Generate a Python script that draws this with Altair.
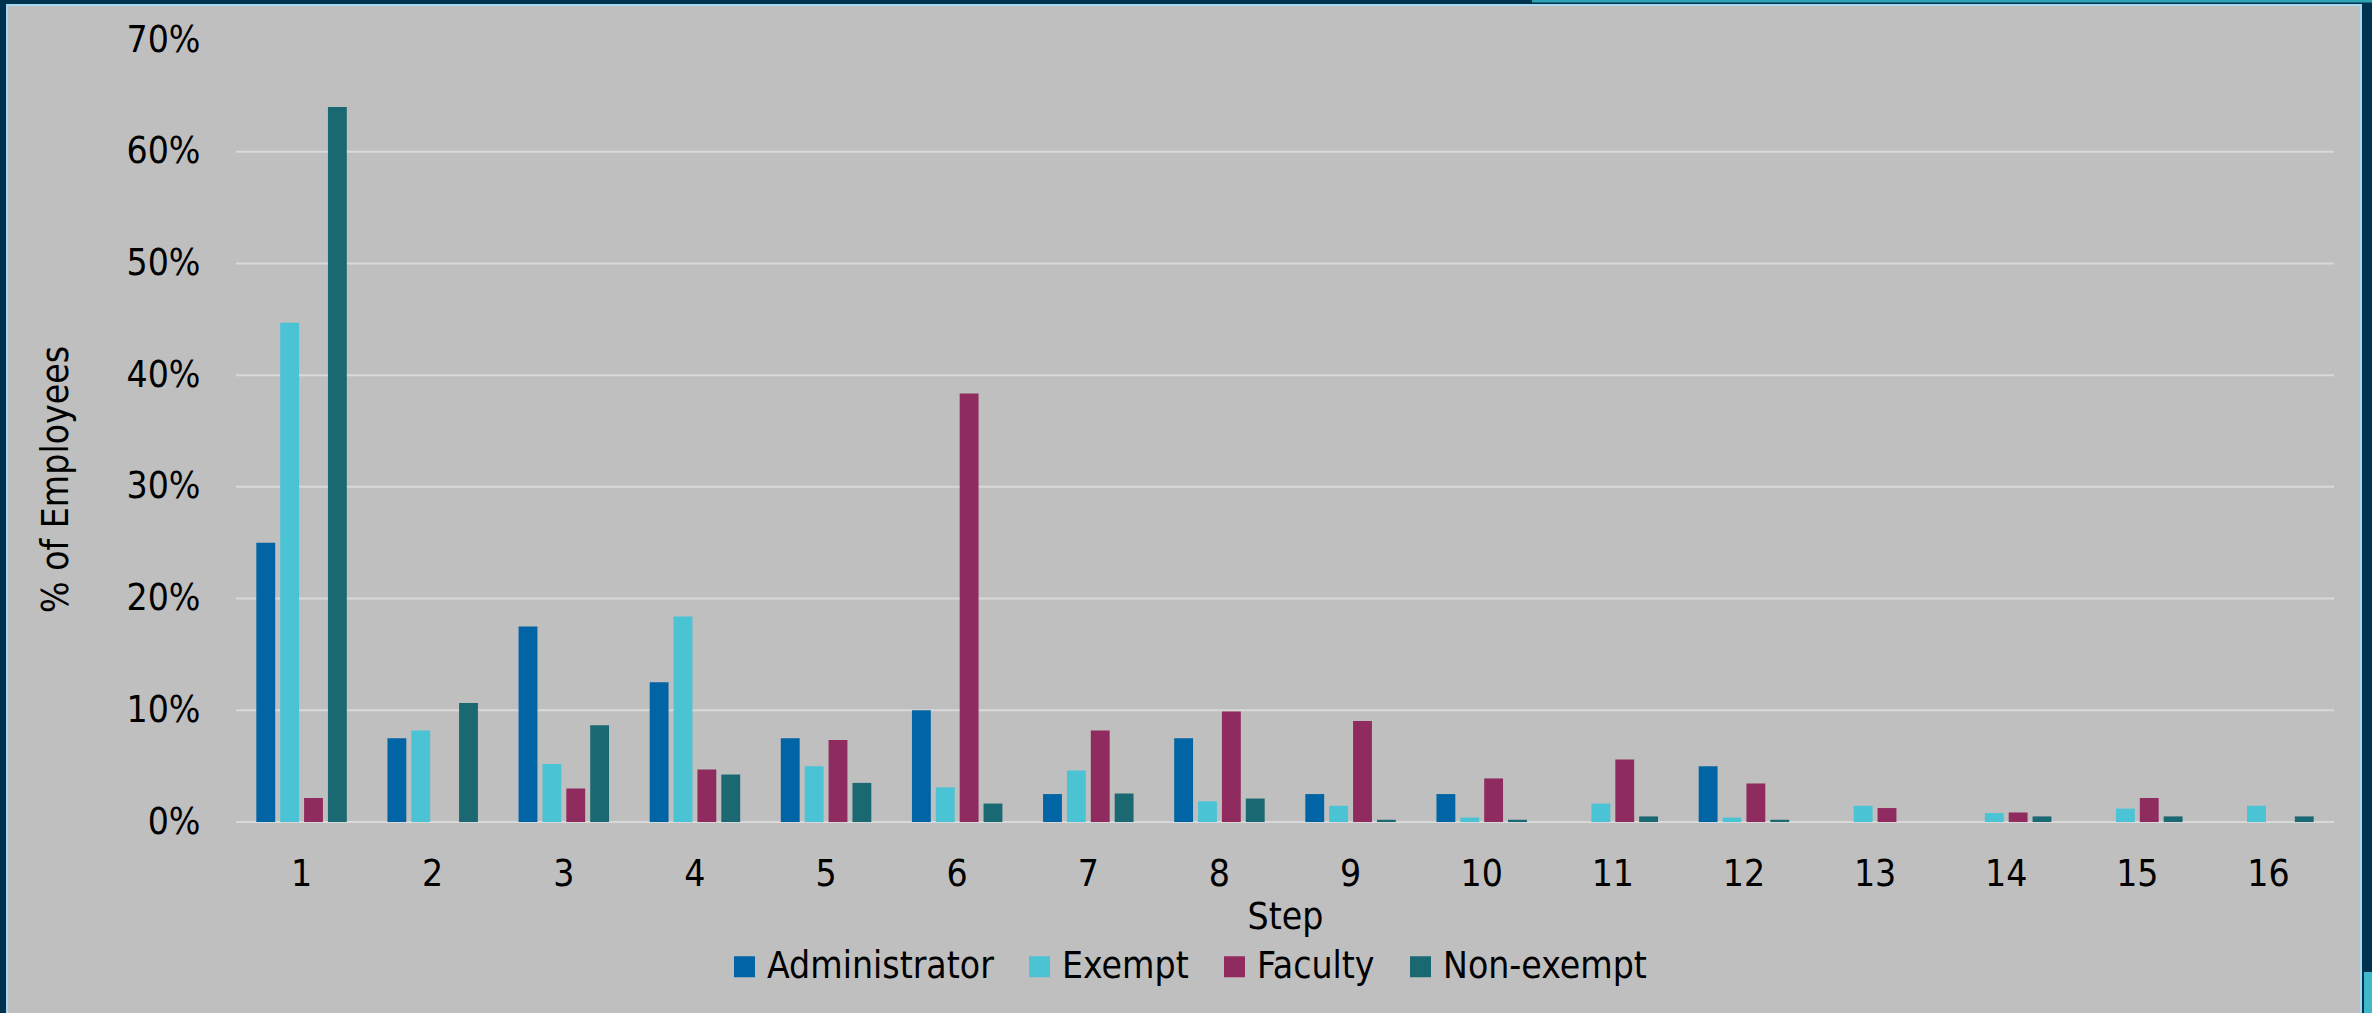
import altair as alt
import pandas as pd

# ---- data (percent of employees by step) ----
steps = [str(i) for i in range(1, 17)]
groups = ["Administrator", "Exempt", "Faculty", "Non-exempt"]
colors = ["#0064A5", "#4AC3D5", "#902B5F", "#1A6871"]

administrator = [25.0, 7.5, 17.5, 12.5, 7.5, 10.0, 2.5, 7.5, 2.5, 2.5, 0.0, 5.0, 0.0, 0.0, 0.0, 0.0]
exempt = [44.7, 8.2, 5.2, 18.4, 5.0, 3.1, 4.6, 1.85, 1.45, 0.4, 1.65, 0.4, 1.45, 0.8, 1.2, 1.45]
faculty = [2.15, 0.0, 3.0, 4.7, 7.35, 38.35, 8.2, 9.9, 9.05, 3.9, 5.6, 3.45, 1.25, 0.85, 2.15, 0.0]
non_exempt = [64.0, 10.65, 8.65, 4.25, 3.5, 1.65, 2.55, 2.1, 0.2, 0.2, 0.5, 0.2, 0.0, 0.5, 0.5, 0.5]

y_ticks = [0, 10, 20, 30, 40, 50, 60, 70]
grid_values = [0, 10, 20, 30, 40, 50, 60]

rows = []
for g, vals in zip(groups, [administrator, exempt, faculty, non_exempt]):
    for s, v in zip(steps, vals):
        rows.append({"Step": s, "Group": g, "Pct": v})
df = pd.DataFrame(rows)
grid_df = pd.DataFrame({"Pct": grid_values})

# ---- layout ----
W, H = 2098, 782
PL, PT, PR, PB = 236, 40, 38, 191
FONT = "DejaVu Sans Condensed, DejaVu Sans, sans-serif"
FS = 37

yscale = alt.Scale(domain=[0, 70], nice=False, zero=True)
yaxis = alt.Axis(
    values=y_ticks, labelExpr="datum.value + '%'", grid=False, ticks=False, tickSize=0,
    domain=False, labelFontSize=FS, labelPadding=36,
    title="% of Employees", titleFontSize=FS, titleFontWeight="normal",
    titleX=-180, titleY=439, titleAngle=-90, titleBaseline="middle", titleAlign="center",
    zindex=2,
)
one = alt.Data(values=[{"k": 1}])

panel = alt.Chart(one).mark_rect(fill="#BFBFBF", stroke="#A9D9F2", strokeWidth=2).encode(
    x=alt.value(7 - PL), x2=alt.value(2361 - PL),
    y=alt.value(5 - PT), y2=alt.value(1013 - PT + 20),
)
strip = alt.Chart(one).mark_rect(fill="#2FA3B6").encode(
    x=alt.value(1532 - PL), x2=alt.value(2372 - PL + 5),
    y=alt.value(0 - PT), y2=alt.value(2.5 - PT),
)
corner = alt.Chart(one).mark_rect(fill="#3FB8CC").encode(
    x=alt.value(2364 - PL), x2=alt.value(2372 - PL + 5),
    y=alt.value(972 - PT), y2=alt.value(1013 - PT + 5),
)

grid = alt.Chart(grid_df).mark_rule(color="#D9D9D9", strokeWidth=2).encode(
    y=alt.Y("Pct:Q", scale=yscale, axis=yaxis),
    x=alt.value(0), x2=alt.value(W),
)

bars = alt.Chart(df).mark_bar().encode(
    x=alt.X(
        "Step:O", sort=steps,
        scale=alt.Scale(paddingInner=0.31, paddingOuter=0.155),
        axis=alt.Axis(
            title="Step", labelAngle=0, ticks=False, tickSize=0, domain=False, grid=False,
            labelFontSize=FS, labelPadding=63, labelBaseline="alphabetic",
            titleFontSize=FS, titleFontWeight="normal", titleY=106, titleBaseline="alphabetic",
            zindex=2,
        ),
    ),
    xOffset=alt.XOffset("Group:N", sort=groups,
                        scale=alt.Scale(domain=groups, paddingInner=0.21, paddingOuter=0)),
    y=alt.Y("Pct:Q", scale=yscale, axis=yaxis),
    color=alt.Color(
        "Group:N",
        scale=alt.Scale(domain=groups, range=colors),
        legend=alt.Legend(
            title=None, orient="none", legendX=490, legendY=908, direction="horizontal",
            symbolType="square", symbolSize=441, symbolStrokeWidth=0, symbolOpacity=1,
            labelFontSize=FS, labelOffset=4, columnPadding=27, labelColor="black", labelFont=FONT,
            labelLimit=0, zindex=2,
        ),
    ),
)

chart = alt.layer(panel, strip, corner, grid, bars).properties(
    width=W, height=H,
    padding={"left": PL, "top": PT, "right": PR, "bottom": PB},
    autosize=alt.AutoSizeParams(type="none"),
).configure(
    background="#00334E", font=FONT,
).configure_view(stroke=None).configure_axis(
    labelColor="black", titleColor="black", labelFont=FONT, titleFont=FONT,
)

chart.save("out.html", embed_options={"renderer": "svg", "actions": False})
